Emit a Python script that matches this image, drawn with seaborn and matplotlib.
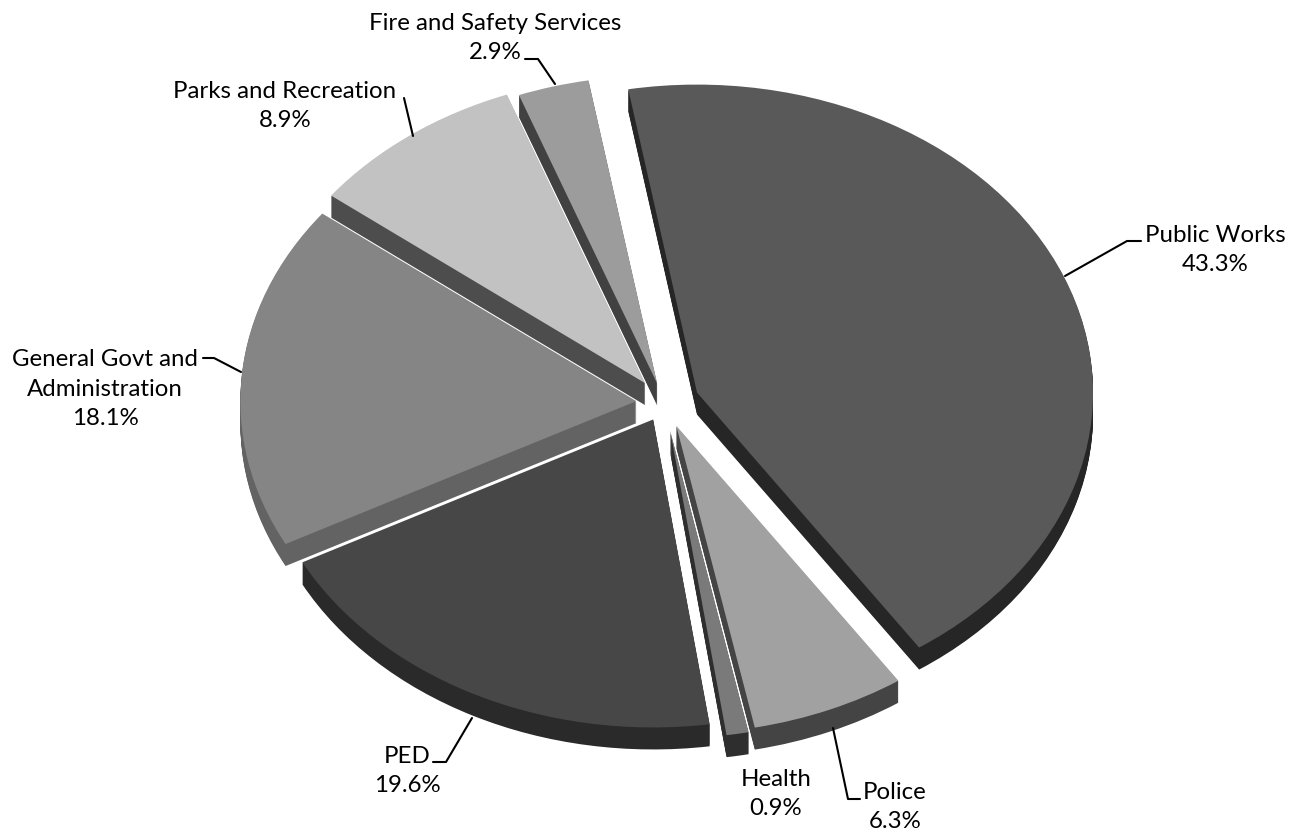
import matplotlib
matplotlib.use('Agg')
import matplotlib.pyplot as plt
import seaborn as sns
from matplotlib.lines import Line2D

sns.set_theme(style='white')
plt.rcParams['font.family'] = ['Lato', 'DejaVu Sans']

# data, clockwise from the top
departments = ['Public Works', 'Police', 'Health', 'PED',
               'General Govt and\nAdministration', 'Parks and Recreation',
               'Fire and Safety Services']
shares = [43.3, 6.3, 0.9, 19.6, 18.1, 8.9, 2.9]
share_labels = ['43.3%', '6.3%', '0.9%', '19.6%', '18.1%', '8.9%', '2.9%']

top_colors = ['#595959', '#a1a1a1', '#7a7a7a', '#474747', '#858585', '#c2c2c2', '#9c9c9c']
wall_colors = ['#262626', '#444444', '#2e2e2e', '#2a2a2a', '#636363', '#4d4d4d', '#414141']
explode = [0.09, 0.08, 0.09, 0.06, 0.07, 0.08, 0.065]

W, H = 1293, 836
CX, CY, RX, RY = 664, 403, 396, 308
DEPTH = 22
START = 100

fig = plt.figure(figsize=(W / 100, H / 100), dpi=100)
ax = fig.add_axes([0, 0, 1, 1])


def fig_xy(x, y):
    return x / W, 1 - y / H


# walls: the same pie stacked downwards, then the top surface
for k in range(DEPTH, 0, -1):
    ax.pie(shares, colors=wall_colors, explode=explode, startangle=START,
           counterclock=False, center=(0, -k / RY), frame=False,
           wedgeprops=dict(linewidth=0))
ax.pie(shares, colors=top_colors, explode=explode, startangle=START,
       counterclock=False, center=(0, 0), frame=False,
       wedgeprops=dict(linewidth=0))

ax.set_aspect('auto')
ax.set_xlim(-CX / RX, (W - CX) / RX)
ax.set_ylim((CY - H) / RY, CY / RY)
ax.axis('off')

label_pos = [(1215, 250), (895, 807), (776, 794), (407, 771), (105, 389), (285, 106), (495, 38)]
for name, pct, (x, y), in zip(departments, share_labels, label_pos):
    fx, fy = fig_xy(x, y)
    fig.text(fx, fy, name + '\n' + pct, ha='center', va='center', fontsize=17.3,
             color='black', linespacing=1.5)

# leader lines
leaders = [
    [(1065, 276), (1127, 241), (1141, 241)],
    [(833, 728), (848, 799), (860, 799)],
    [(472, 718), (446, 762), (433, 762)],
    [(241, 372), (214, 358), (203, 358)],
    [(413, 136), (404, 98), (404, 98)],
    [(555, 84), (538, 59), (525, 59)],
]
for pts in leaders:
    xy = [fig_xy(*p) for p in pts]
    fig.add_artist(Line2D([p[0] for p in xy], [p[1] for p in xy],
                          transform=fig.transFigure, color='black', lw=1.5))

fig.savefig('out.png', dpi=100, facecolor='white')
